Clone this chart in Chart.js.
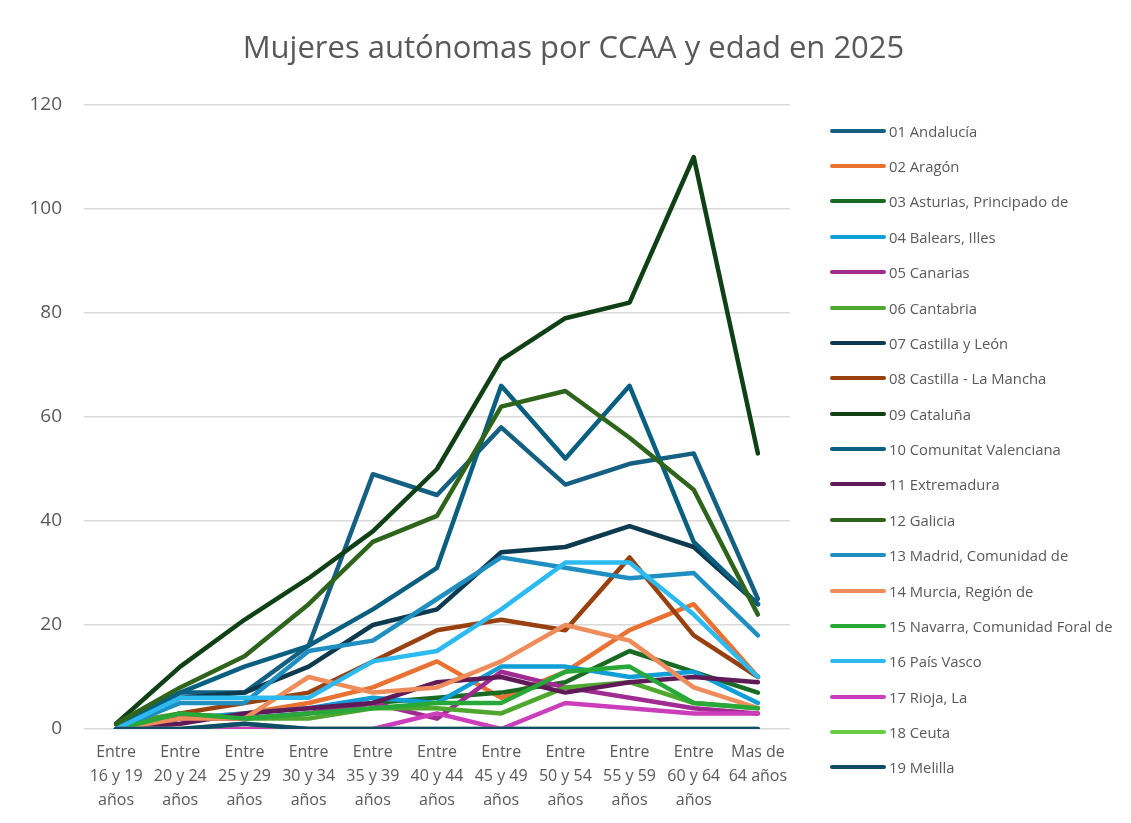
<!DOCTYPE html>
<html>
<head>
<meta charset="utf-8">
<script src="https://cdn.jsdelivr.net/npm/chart.js@4/dist/chart.umd.min.js"></script>
<style>
  html, body { margin: 0; padding: 0; background: #ffffff; }
  #wrap { position: relative; width: 1131px; height: 823px; }
  #legend { position: absolute; left: 830px; top: 113px; font-family: "Open Sans", sans-serif; font-size: 14.8px; color: #595959; }
  .item { display: flex; align-items: center; height: 35.39px; white-space: nowrap; }
  .swatch { width: 56px; height: 4px; border-radius: 2px; margin-right: 3px; }
</style>
</head>
<body>
<div id="wrap">
  <canvas id="c" width="1131" height="823"></canvas>
  <div id="legend"></div>
</div>
<script>
const categories = [
  ["Entre", "16 y 19", "años"],
  ["Entre", "20 y 24", "años"],
  ["Entre", "25 y 29", "años"],
  ["Entre", "30 y 34", "años"],
  ["Entre", "35 y 39", "años"],
  ["Entre", "40 y 44", "años"],
  ["Entre", "45 y 49", "años"],
  ["Entre", "50 y 54", "años"],
  ["Entre", "55 y 59", "años"],
  ["Entre", "60 y 64", "años"],
  ["Mas de", "64 años"]
];

const seriesNames = [
  "01 Andalucía", "02 Aragón", "03 Asturias, Principado de", "04 Balears, Illes",
  "05 Canarias", "06 Cantabria", "07 Castilla y León", "08 Castilla - La Mancha",
  "09 Cataluña", "10 Comunitat Valenciana", "11 Extremadura", "12 Galicia",
  "13 Madrid, Comunidad de", "14 Murcia, Región de", "15 Navarra, Comunidad Foral de",
  "16 País Vasco", "17 Rioja, La", "18 Ceuta", "19 Melilla"
];

const andalucia   = [1, 7, 7, 16, 49, 45, 58, 47, 51, 53, 25];
const aragon      = [0, 2, 3, 5, 8, 13, 6, 11, 19, 24, 10];
const asturias    = [0, 3, 2, 3, 5, 6, 7, 9, 15, 11, 7];
const balears     = [0, 2, 3, 4, 6, 5, 12, 12, 10, 11, 5];
const canarias    = [0, 2, 2, 3, 5, 2, 11, 8, 6, 4, 3];
const cantabria   = [1, 3, 2, 2, 4, 4, 3, 8, 9, 5, 4];
const castillaLeon = [0, 6, 7, 12, 20, 23, 34, 35, 39, 35, 24];
const castillaMancha = [0, 3, 5, 7, 13, 19, 21, 19, 33, 18, 10];
const cataluna    = [1, 12, 21, 29, 38, 50, 71, 79, 82, 110, 53];
const valenciana  = [0, 7, 12, 16, 23, 31, 66, 52, 66, 36, 24];
const extremadura = [0, 1, 3, 4, 5, 9, 10, 7, 9, 10, 9];
const galicia     = [1, 8, 14, 24, 36, 41, 62, 65, 56, 46, 22];
const madrid      = [0, 5, 5, 15, 17, 25, 33, 31, 29, 30, 18];
const murcia      = [0, 2, 2, 10, 7, 8, 13, 20, 17, 8, 4];
const navarra     = [0, 3, 2, 3, 4, 5, 5, 11, 12, 5, 4];
const paisVasco   = [0, 6, 6, 6, 13, 15, 23, 32, 32, 22, 10];
const rioja       = [0, 0, 0, 0, 0, 3, 0, 5, 4, 3, 3];
const ceuta       = [0, 0, 1, 0, 0, 0, 0, 0, 0, 0, 0];
const melilla     = [0, 0, 1, 0, 0, 0, 0, 0, 0, 0, 0];

const yTicks = [0, 20, 40, 60, 80, 100, 120];

const seriesValues = [andalucia, aragon, asturias, balears, canarias, cantabria,
  castillaLeon, castillaMancha, cataluna, valenciana, extremadura, galicia,
  madrid, murcia, navarra, paisVasco, rioja, ceuta, melilla];

const seriesColors = [
  "#156082", "#E97132", "#196B24", "#0F9ED5", "#A02B93", "#4EA72E",
  "#0D3A4E", "#994010", "#0F4016", "#095F80", "#601A58", "#2F641C",
  "#1F8EC0", "#EE8D5B", "#27A839", "#2CBAF0", "#CB3DBB", "#68CC45",
  "#114D68"
];

const datasets = seriesNames.map((name, i) => ({
  label: name,
  data: seriesValues[i],
  borderColor: seriesColors[i],
  backgroundColor: seriesColors[i],
  borderWidth: 4.5,
  pointRadius: 0,
  pointHoverRadius: 0,
  tension: 0,
  fill: false,
  borderCapStyle: "round",
  borderJoinStyle: "round",
  order: -i
}));

const chart = new Chart(document.getElementById("c"), {
  type: "line",
  data: { labels: categories, datasets: datasets },
  options: {
    responsive: false,
    animation: false,
    events: [],
    layout: { padding: { left: 16, right: 0, top: 0, bottom: 0 } },
    plugins: {
      legend: { display: false },
      tooltip: { enabled: false },
      title: {
        display: true,
        text: "Mujeres autónomas por CCAA y edad en 2025",
        color: "#595959",
        font: { family: "Open Sans", size: 31, weight: "normal", lineHeight: 1.2 },
        padding: { top: 31, bottom: 36.8 }
      }
    },
    scales: {
      x: {
        offset: true,
        grid: { display: false, drawTicks: false },
        border: { display: false },
        ticks: {
          color: "#595959",
          font: { family: "Open Sans", size: 16, lineHeight: 1.5 },
          padding: 11,
          maxRotation: 0,
          autoSkip: false
        },
        afterFit: s => { s.height = 94; }
      },
      y: {
        min: 0,
        max: 120,
        afterBuildTicks: s => { s.ticks = yTicks.map(v => ({ value: v })); },
        grid: { color: "#d9d9d9", lineWidth: 1.5, drawTicks: false },
        border: { display: false },
        ticks: {
          color: "#595959",
          font: { family: "Open Sans", size: 19 },
          padding: 22
        },
        afterFit: s => { s.width = 68; }
      },
      legendSpace: {
        type: "linear",
        position: "right",
        display: true,
        grid: { display: false, drawTicks: false },
        border: { display: false },
        ticks: { display: false },
        afterFit: s => { s.width = 341; }
      }
    }
  }
});

const legend = document.getElementById("legend");
chart.data.datasets.forEach(ds => {
  const item = document.createElement("div");
  item.className = "item";
  const sw = document.createElement("span");
  sw.className = "swatch";
  sw.style.background = ds.borderColor;
  const tx = document.createElement("span");
  tx.textContent = ds.label;
  item.appendChild(sw);
  item.appendChild(tx);
  legend.appendChild(item);
});
</script>
</body>
</html>
